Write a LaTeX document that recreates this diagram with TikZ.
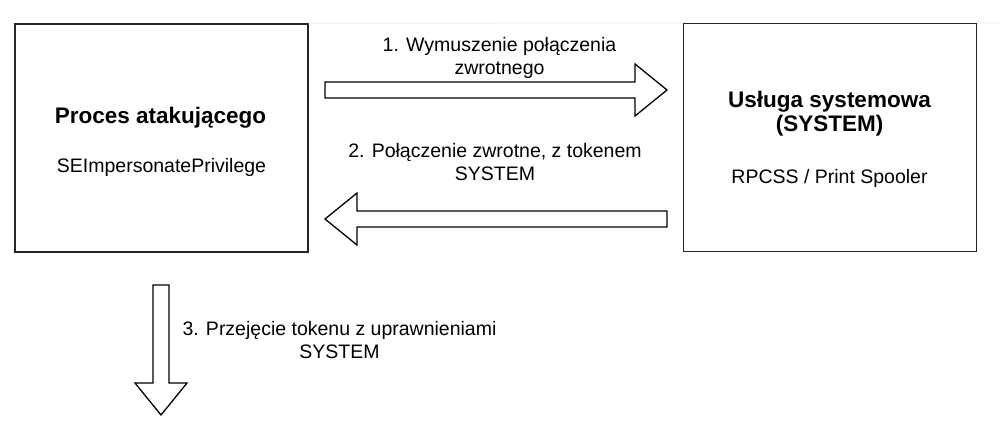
\documentclass[tikz,border=0pt]{standalone}
\usepackage{fontspec}
\setmainfont{Liberation Sans}
\usetikzlibrary{calc}
\newcommand\fatarr[2]{%
  \coordinate (hb) at ($(#2)!32pt!(#1)$);
  \draw[fatarrow] ($(#1)!8pt!90:(#2)$) -- ($(hb)!8pt!90:(#2)$) -- ($(hb)!26pt!90:(#2)$) -- (#2)
    -- ($(hb)!26pt!-90:(#2)$) -- ($(hb)!8pt!-90:(#2)$) -- ($(#1)!8pt!-90:(#2)$) -- cycle;}
\tikzset{
  box/.style={draw=black!85, line width=1.5pt, fill=white, minimum width=293pt, minimum height=228pt, inner sep=0pt},
  fatarrow/.style={draw=black, line width=1.3pt, fill=white, line join=miter},
  title/.style={font=\fontsize{22.5}{24}\selectfont\bfseries, anchor=base, inner sep=0pt},
  sub/.style={font=\fontsize{19.5}{23}\selectfont, anchor=base, inner sep=0pt},
  lbl/.style={font=\fontsize{19.5}{23.5}\selectfont, anchor=base, inner sep=0pt},
  faint/.style={draw=black!6, line width=1pt}
}
\begin{document}
\begin{tikzpicture}[x=1pt, y=-1pt]
\useasboundingbox[fill=white] (0,0) rectangle (1000,440);
% boxes
\node[box] (L) at (161.5,138) {};
\node[box] (R) at (830,137.5) {};
\coordinate (edge) at (1000,23);
\draw[faint] (L.north east) -- (R.north west);
\draw[faint] (R.north east) -- (edge);
% box texts
\node[title] (Lt) at (160.5,123) {Proces atakującego};
\node[sub] (Ls) at (161.5,172) {SEImpersonatePrivilege};
\node[title] (Rt) at (829.5,107) {\begin{tabular}[t]{@{}c@{}}Usługa systemowa\\(SYSTEM)\end{tabular}};
\node[sub] (Rs) at (829.5,183) {RPCSS / Print Spooler};
% arrows
\coordinate (a1s) at (325,90);
\coordinate (a1e) at (667,90);
\coordinate (a2s) at (667,219);
\coordinate (a2e) at (325,219);
\coordinate (a3s) at (161,285);
\coordinate (a3e) at (161,415);
\fatarr{a1s}{a1e}
\fatarr{a2s}{a2e}
\fatarr{a3s}{a3e}
% labels
\node[lbl] (l1) at (499.5,51) {\begin{tabular}[t]{@{}c@{}}1. Wymuszenie połączenia\\zwrotnego\end{tabular}};
\node[lbl] (l2) at (495,157) {\begin{tabular}[t]{@{}c@{}}2. Połączenie zwrotne, z tokenem\\SYSTEM\end{tabular}};
\node[lbl] (l3) at (339.5,335) {\begin{tabular}[t]{@{}c@{}}3. Przejęcie tokenu z uprawnieniami\\SYSTEM\end{tabular}};
\end{tikzpicture}
\end{document}
